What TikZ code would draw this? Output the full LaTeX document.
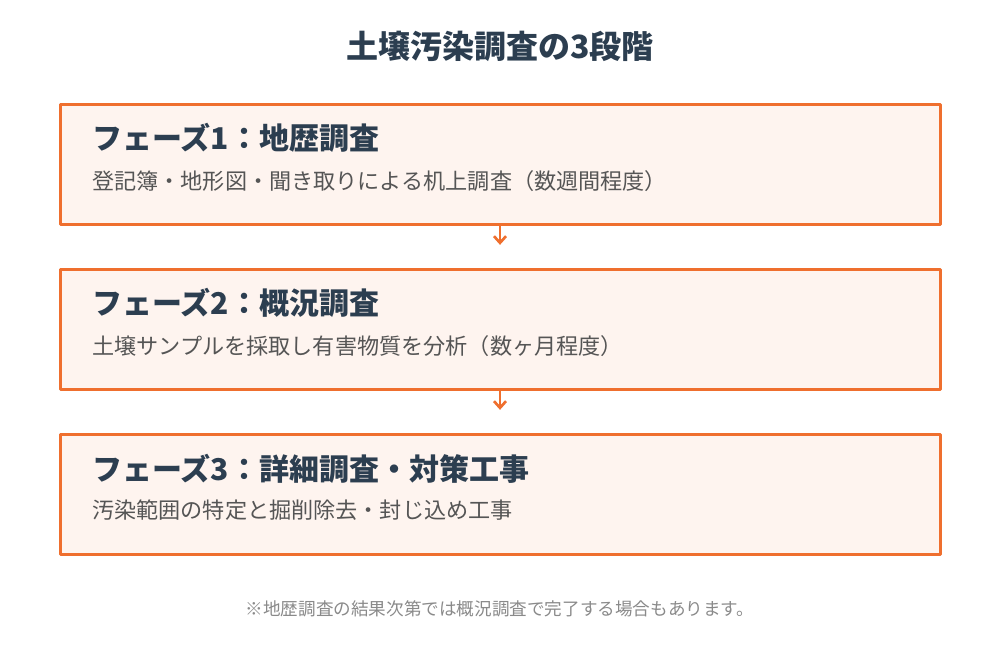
\documentclass[tikz,border=0pt]{standalone}
\usepackage{fontspec}
\setmainfont{Noto Sans CJK JP}
\usetikzlibrary{arrows.meta}
\definecolor{navy}{HTML}{2C3E50}
\definecolor{bodygray}{HTML}{555555}
\definecolor{notegray}{HTML}{8A8A8A}
\definecolor{phaseorange}{HTML}{EF6F2E}
\definecolor{phasefill}{HTML}{FEF4EF}
\tikzset{
  phasebox/.style={draw=phaseorange,fill=phasefill,line width=2.25pt,minimum width=660pt,minimum height=90pt,inner sep=0pt},
  phasetitle/.style={anchor=west,inner sep=0pt,text=navy,font=\bfseries\fontsize{22.5pt}{26pt}\selectfont},
  phasetext/.style={anchor=west,inner sep=0pt,text=bodygray,font=\fontsize{16.6pt}{20pt}\selectfont},
  flow/.style={draw=phaseorange,line width=2pt,-{Straight Barb[length=5pt,width=9pt]}}
}
\begin{document}
\begin{tikzpicture}[x=0.75pt,y=-0.75pt,line join=round,line cap=round]
			\useasboundingbox [fill=white] (0,0) rectangle (1000,650);
			% title
			\node [text=navy,font=\bfseries\fontsize{24pt}{28pt}\selectfont] (title) at (500,46) {土壌汚染調査の3段階};
			% phases
			\node [phasebox] (p1) at (500,164) {};
			\node [phasebox] (p2) at (500,329) {};
			\node [phasebox] (p3) at (500,494) {};
			\node [phasetitle] (t1) at (92,138) {フェーズ1：地歴調査};
			\node [phasetext] (d1) at (92,181) {登記簿・地形図・聞き取りによる机上調査（数週間程度）};
			\node [phasetitle] (t2) at (92,303) {フェーズ2：概況調査};
			\node [phasetext] (d2) at (92,346) {土壌サンプルを採取し有害物質を分析（数ヶ月程度）};
			\node [phasetitle] (t3) at (92,469) {フェーズ3：詳細調査・対策工事};
			\node [phasetext] (d3) at (92,510) {汚染範囲の特定と掘削除去・封じ込め工事};
			\draw [flow,shorten >=17pt] (p1.south) -- (p2.north);
			\draw [flow,shorten >=17pt] (p2.south) -- (p3.north);
			% note
			\node [text=notegray,font=\fontsize{13.2pt}{16pt}\selectfont] (note) at (500,609) {※地歴調査の結果次第では概況調査で完了する場合もあります。};
		\end{tikzpicture}
\end{document}
